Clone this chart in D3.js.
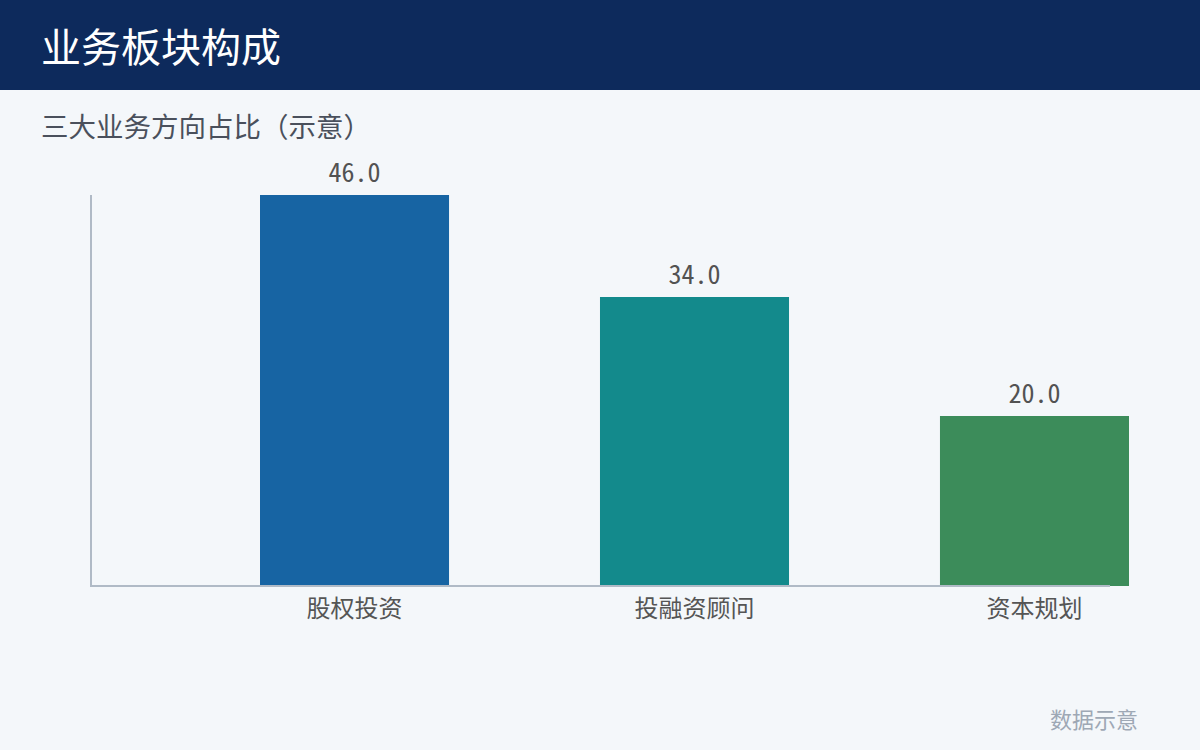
<!DOCTYPE html>
<html><head><meta charset="utf-8">
<script src="https://cdn.jsdelivr.net/npm/d3@7"></script>
<style>html,body{margin:0;padding:0;background:#f4f7fa;}svg{display:block;}</style>
</head><body>
<script>
const title = "业务板块构成";
const subtitle = "三大业务方向占比（示意）";
const categories = ["股权投资", "投融资顾问", "资本规划"];
const values = [46.0, 34.0, 20.0];
const colors = ["#1764a3", "#138a8c", "#3c8c5a"];
const note = "数据示意";

const W = 1200, H = 750;
const svg = d3.select("body").append("svg").attr("width", W).attr("height", H);
svg.append("rect").attr("width", W).attr("height", H).attr("fill", "#f4f7fa");
svg.append("rect").attr("width", W).attr("height", 90).attr("fill", "#0d2a5c");
const cjk = "'Noto Sans CJK SC','Noto Sans',sans-serif";
svg.append("text").attr("x", 41).attr("y", 62).attr("fill", "#ffffff")
  .attr("font-family", cjk).attr("font-size", 40).text(title);
svg.append("text").attr("x", 41).attr("y", 137).attr("fill", "#4a505c")
  .attr("font-family", cjk).attr("font-size", 27.5).text(subtitle);

const y0 = 586, y1 = 195;
const x = d3.scaleBand().domain(categories).range([260, 1129]).paddingInner(0.444).paddingOuter(0);
const y = d3.scaleLinear().domain([0, d3.max(values)]).range([y0, y1]);

const g = svg.append("g");
g.selectAll("rect.bar").data(categories).join("rect").attr("class", "bar")
  .attr("x", d => x(d)).attr("width", x.bandwidth())
  .attr("y", (d, i) => y(values[i])).attr("height", (d, i) => y0 - y(values[i]))
  .attr("fill", (d, i) => colors[i]);

// axes lines
g.append("line").attr("x1", 91).attr("x2", 91).attr("y1", y1).attr("y2", y0 + 1)
  .attr("stroke", "#b0bac6").attr("stroke-width", 2);
g.append("line").attr("x1", 90).attr("x2", 1110).attr("y1", y0).attr("y2", y0)
  .attr("stroke", "#b0bac6").attr("stroke-width", 2);

g.selectAll("text.val").data(categories).join("text").attr("class", "val")
  .attr("x", d => x(d) + x.bandwidth() / 2).attr("y", (d, i) => y(values[i]) - 13)
  .attr("text-anchor", "middle").attr("fill", "#525252")
  .attr("font-family", "'Noto Sans Mono CJK SC','DejaVu Sans Mono',monospace").attr("font-size", 26)
  .text((d, i) => d3.format(".1f")(values[i]));

g.selectAll("text.cat").data(categories).join("text").attr("class", "cat")
  .attr("x", d => x(d) + x.bandwidth() / 2).attr("y", 617)
  .attr("text-anchor", "middle").attr("fill", "#555555")
  .attr("font-family", cjk).attr("font-size", 24).text(d => d);

svg.append("text").attr("x", 1138).attr("y", 728).attr("text-anchor", "end").attr("fill", "#9ea8b5")
  .attr("font-family", cjk).attr("font-size", 22).text(note);
</script>
</body></html>
